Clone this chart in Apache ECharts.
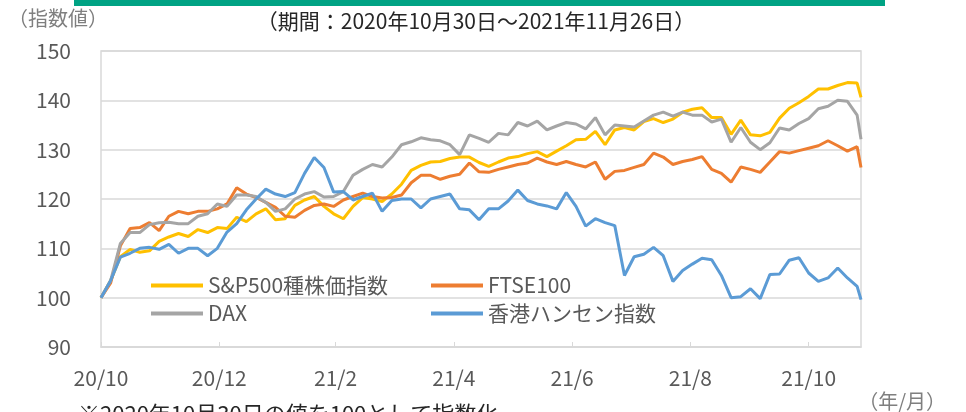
<!DOCTYPE html>
<html>
<head>
<meta charset="utf-8">
<script src="https://cdn.jsdelivr.net/npm/echarts@6/dist/echarts.min.js"></script>
<style>
  html, body { margin: 0; padding: 0; background: #fff; }
  #chart { width: 966px; height: 412px; }
</style>
</head>
<body>
<div id="chart"></div>
<script>
// 日付（5日おき）
var dates = [
  '2020-10-30','2020-11-04','2020-11-09','2020-11-14','2020-11-19','2020-11-24','2020-11-29','2020-12-04','2020-12-09','2020-12-14',
  '2020-12-19','2020-12-24','2020-12-29','2021-01-03','2021-01-08','2021-01-13','2021-01-18','2021-01-23','2021-01-28','2021-02-02',
  '2021-02-07','2021-02-12','2021-02-17','2021-02-22','2021-02-27','2021-03-04','2021-03-09','2021-03-14','2021-03-19','2021-03-24',
  '2021-03-29','2021-04-03','2021-04-08','2021-04-13','2021-04-18','2021-04-23','2021-04-28','2021-05-03','2021-05-08','2021-05-13',
  '2021-05-18','2021-05-23','2021-05-28','2021-06-02','2021-06-07','2021-06-12','2021-06-17','2021-06-22','2021-06-27','2021-07-02',
  '2021-07-07','2021-07-12','2021-07-17','2021-07-22','2021-07-27','2021-08-01','2021-08-06','2021-08-11','2021-08-16','2021-08-21',
  '2021-08-26','2021-08-31','2021-09-05','2021-09-10','2021-09-15','2021-09-20','2021-09-25','2021-09-30','2021-10-05','2021-10-10',
  '2021-10-15','2021-10-20','2021-10-25','2021-10-30','2021-11-04','2021-11-09','2021-11-14','2021-11-19','2021-11-24','2021-11-26'
];

var sp500 = [
  100, 103.5, 108.3, 109.8, 109.2, 109.5, 111.4, 112.3, 113, 112.4,
  113.8, 113.2, 114.2, 114, 116.3, 115.4, 117, 118, 115.8, 116,
  118.7, 119.8, 120.5, 118.5, 117, 116, 118.5, 120.3, 120, 119.5,
  121, 123, 125.8, 126.8, 127.5, 127.6, 128.2, 128.5, 128.5, 127.4,
  126.6, 127.5, 128.3, 128.6, 129.2, 129.6, 128.6, 129.7, 130.8, 132,
  132.1, 133.7, 131, 134, 134.5, 134, 135.7, 136.3, 135.5, 136.2,
  137.6, 138.2, 138.5, 136.5, 136.5, 133.1, 136, 133, 132.8, 133.5,
  136.4, 138.4, 139.5, 140.8, 142.3, 142.3, 143, 143.6, 143.5, 140.6
];

var ftse100 = [
  100, 103, 110.5, 114, 114.2, 115.2, 113.6, 116.5, 117.5, 117,
  117.5, 117.5, 118, 119, 122.3, 121, 120.3, 119.3, 118.3, 116.5,
  116.3, 117.7, 118.7, 119, 118.5, 119.8, 120.5, 121.2, 120.5, 120.2,
  120.3, 120.8, 123.3, 124.8, 124.8, 124, 124.6, 125, 127.3, 125.5,
  125.4, 126, 126.5, 127, 127.3, 128.3, 127.5, 127, 127.6, 127,
  126.5, 127.5, 124, 125.6, 125.8, 126.4, 127, 129.3, 128.5, 127,
  127.6, 128, 128.6, 126, 125.2, 123.4, 126.5, 126, 125.4, 127.5,
  129.6, 129.3, 129.8, 130.3, 130.8, 131.8, 130.8, 129.7, 130.6, 126.4
];

var dax = [
  100, 103.5, 111, 113.2, 113.2, 114.8, 115.2, 115.3, 115, 115,
  116.5, 117, 119, 118.5, 120.8, 120.8, 120.5, 119.3, 117.5, 118,
  120, 121, 121.5, 120.4, 120.5, 121.5, 124.8, 126, 127, 126.5,
  128.5, 131, 131.6, 132.4, 132, 131.8, 131, 129, 133, 132.3,
  131.5, 133.3, 133, 135.5, 134.8, 135.8, 134, 134.8, 135.5, 135.2,
  134.2, 136.5, 133, 135, 134.8, 134.6, 135.8, 137, 137.6, 136.8,
  137.6, 137, 137, 135.6, 136.2, 131.5, 134.5, 131.5, 130, 131.4,
  134.4, 134, 135.3, 136.3, 138.3, 138.8, 140, 139.8, 137, 132.1
];

var hangseng = [
  100, 103.5, 108.2, 109, 110, 110.2, 109.8, 110.8, 109, 110,
  110, 108.5, 110, 113.3, 115, 117.8, 120, 122, 121, 120.5,
  121.3, 125.2, 128.4, 126.4, 121.4, 121.5, 119.8, 120.5, 121.2, 117.5,
  119.7, 120, 120, 118.2, 120, 120.5, 121, 118, 117.8, 115.8,
  118, 118, 119.6, 121.8, 119.7, 119, 118.6, 118, 121.3, 118.5,
  114.5, 116, 115.2, 114.6, 104.5, 108.3, 108.8, 110.2, 108.5, 103.3,
  105.5, 106.8, 108, 107.7, 104.5, 100, 100.2, 101.8, 99.8, 104.7,
  104.8, 107.6, 108.1, 105, 103.3, 104, 106, 104, 102.3, 99.6
];

// 目盛り（2か月おき）
var tickDates = ['2020-10-30', '2020-12-30', '2021-02-28', '2021-04-30', '2021-06-30', '2021-08-30', '2021-10-30'];
var tickLabels = ['20/10', '20/12', '21/2', '21/4', '21/6', '21/8', '21/10'];

var seriesNames = ['S&P500種株価指数', 'FTSE100', 'DAX', '香港ハンセン指数'];
var seriesColors = ['#FFC000', '#ED7D31', '#A5A5A5', '#5B9BD5'];
var seriesValues = [sp500, ftse100, dax, hangseng];

// 開始日からの日数
function dayOf(s) {
  var p = s.split('-');
  var t = Date.UTC(+p[0], +p[1] - 1, +p[2]);
  return Math.round((t - Date.UTC(2020, 9, 30)) / 86400000);
}

var tickDays = tickDates.map(dayOf);
var FONT = '"Noto Sans CJK JP", "Noto Sans", sans-serif';

var chart = echarts.init(document.getElementById('chart'), null, {renderer: 'canvas'});

var option = {
  animation: false,
  backgroundColor: '#fff',
  textStyle: {fontFamily: FONT},
  grid: {
    left: 101, right: 105, top: 51, bottom: 65,
    show: true, borderColor: '#D9D9D9', borderWidth: 1.5
  },
  legend: [
    {
      data: [seriesNames[0], seriesNames[2]],
      orient: 'vertical', left: 146, top: 270, itemGap: 7,
      itemWidth: 52, itemHeight: 4, icon: 'rect',
      textStyle: {fontSize: 21, color: '#595959', fontFamily: FONT}
    },
    {
      data: [seriesNames[1], seriesNames[3]],
      orient: 'vertical', left: 426, top: 270, itemGap: 7,
      itemWidth: 52, itemHeight: 4, icon: 'rect',
      textStyle: {fontSize: 21, color: '#595959', fontFamily: FONT}
    }
  ],
  xAxis: {
    type: 'value',
    min: 0,
    max: dayOf(dates[dates.length - 1]),
    axisLine: {show: true, lineStyle: {color: '#D9D9D9', width: 1.5}},
    axisTick: {
      show: true, inside: true, length: 5, customValues: tickDays,
      lineStyle: {color: '#D9D9D9', width: 1}
    },
    axisLabel: {
      customValues: tickDays,
      margin: 21, fontSize: 21, color: '#595959', fontFamily: FONT,
      formatter: function (v) {
        var i = tickDays.indexOf(v);
        return i >= 0 ? tickLabels[i] : '';
      }
    },
    splitLine: {show: false}
  },
  yAxis: {
    type: 'value',
    min: 90, max: 150, interval: 10,
    axisLine: {show: false},
    axisTick: {show: false},
    axisLabel: {margin: 30, fontSize: 21, color: '#595959', fontFamily: FONT, padding: [0, 0, 8, 0]},
    splitLine: {lineStyle: {color: '#D9D9D9', width: 1.5}}
  },
  series: seriesNames.map(function (name, k) {
    return {
      name: name,
      type: 'line',
      symbol: 'none',
      color: seriesColors[k],
      lineStyle: {width: 3, color: seriesColors[k]},
      data: dates.map(function (d, i) { return [dayOf(d), seriesValues[k][i]]; })
    };
  }),
  graphic: [
    {type: 'rect', shape: {x: 74, y: 0, width: 811, height: 6}, style: {fill: '#00A384'}},
    {type: 'text', left: 8, top: 8, style: {text: '（指数値）', font: '20px ' + FONT, fill: '#7F7F7F'}},
    {type: 'text', x: 476, y: 21, style: {text: '（期間：2020年10月30日～2021年11月26日）', font: '21px ' + FONT, fill: '#262626', align: 'center', verticalAlign: 'middle'}},
    {type: 'text', x: 946, y: 401, style: {text: '（年/月）', font: '20px ' + FONT, fill: '#7F7F7F', align: 'right', verticalAlign: 'middle'}},
    {type: 'text', x: 78, y: 403, style: {text: '※2020年10月30日の値を100として指数化', font: '22px ' + FONT, fill: '#262626', align: 'left', verticalAlign: 'top'}}
  ]
};

chart.setOption(option);
</script>
</body>
</html>
